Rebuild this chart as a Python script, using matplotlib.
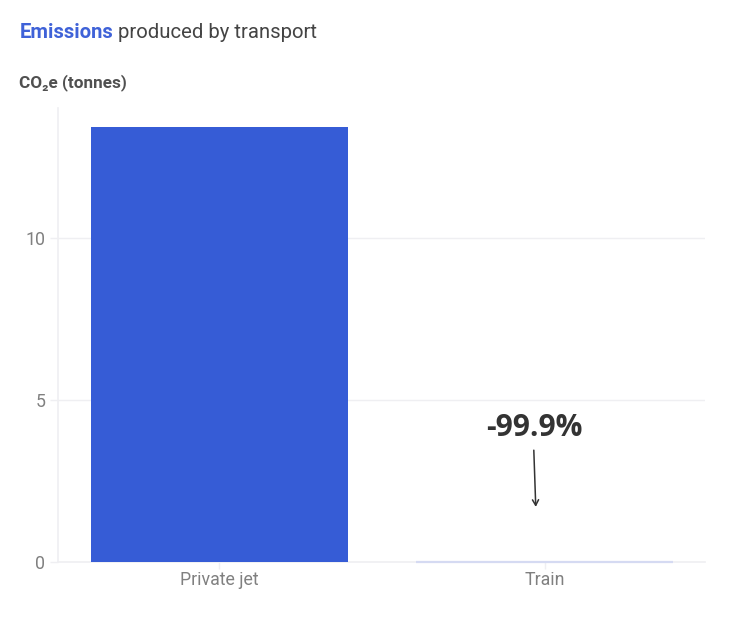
import matplotlib
matplotlib.use('Agg')
import matplotlib.pyplot as plt

categories = ['Private jet', 'Train']
emissions = [13.42, 0.014]
bar_colors = ['#365CD6', '#D5DAF2']
y_ticks = [0, 5, 10]
change_label = '-99.9%'

W, H = 729, 627
plt.rcParams['font.family'] = ['Roboto', 'DejaVu Sans']

fig = plt.figure(figsize=(W / 100, H / 100), dpi=100)
ax = fig.add_axes([58 / W, 1 - 562 / H, (705 - 58) / W, (562 - 108) / H])

ax.bar(categories[0], emissions[0], width=0.79, color=bar_colors[0], zorder=3)
# the train bar is almost nothing, so give it a thin outline to stay visible
ax.bar(categories[1], emissions[1], width=0.79, color=bar_colors[1],
       edgecolor=bar_colors[1], linewidth=1.6, zorder=3, clip_on=False)

ax.set_xlim(-0.496, 1.492)
ax.set_ylim(0, 14.01)
ax.set_yticks(y_ticks)
ax.grid(axis='y', color='#EFEFF2', linewidth=1.0, zorder=0)
ax.set_axisbelow(True)

for side in ['top', 'right']:
    ax.spines[side].set_visible(False)
for side in ['left', 'bottom']:
    ax.spines[side].set_color('#EFEFF2')
    ax.spines[side].set_linewidth(1.2)

ax.tick_params(axis='x', length=5, width=1, color='#EFEFF2', labelcolor='#808080', labelsize=12.8, pad=1.5)
ax.tick_params(axis='y', length=6, width=1, color='#EFEFF2', labelcolor='#808080', labelsize=12.8, pad=3)

# title in two colours, second piece placed after the first one
title_a = fig.text(19.5 / W, 1 - 38 / H, 'Emissions', color='#3F62D8', fontsize=14.6,
                   fontweight='bold')
fig.canvas.draw()
box = title_a.get_window_extent()
fig.text((box.x1 + 5) / W, 1 - 38 / H, 'produced by transport', color='#444444', fontsize=14.6)

fig.text(19 / W, 1 - 87.5 / H, 'CO₂e (tonnes)', color='#505050', fontsize=12.3, fontweight='bold')

# change callout above the train bar
ax.text(0.968, 4.13, change_label, family=['Open Sans', 'DejaVu Sans'], fontweight='bold', fontsize=21.5,
        color='#333333', ha='center', va='center')
ax.annotate('', xy=(0.972, 1.7), xytext=(0.966, 3.45),
            arrowprops=dict(arrowstyle='->,head_width=0.22,head_length=0.4', color='#333333',
                            linewidth=1.1, shrinkA=0, shrinkB=0))

fig.savefig('out.png', dpi=100, facecolor='white')
